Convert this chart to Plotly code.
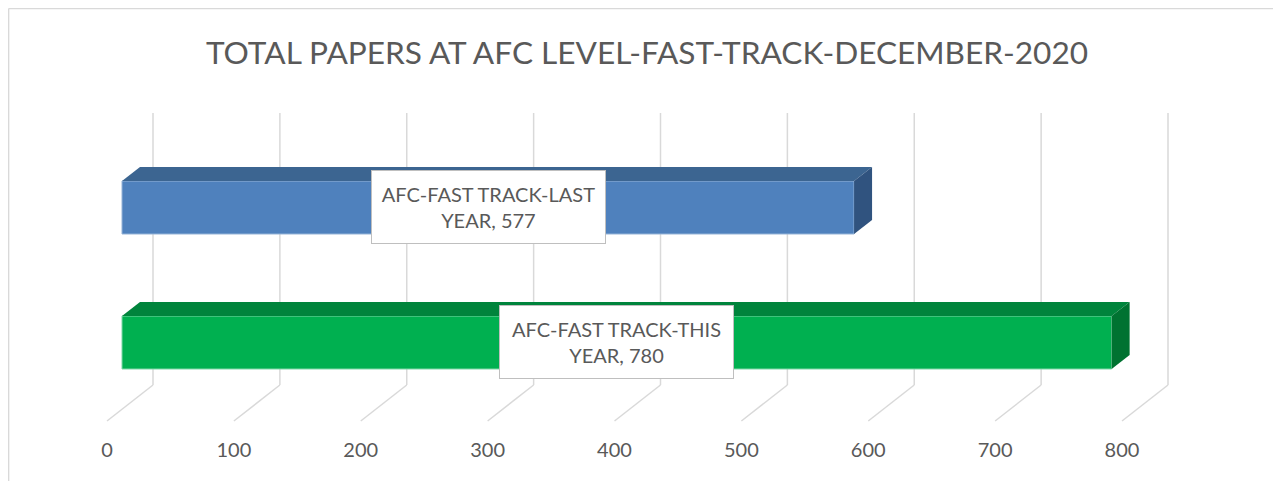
import plotly.graph_objects as go

# ---- data ----
categories = ["AFC-FAST TRACK-LAST YEAR", "AFC-FAST TRACK-THIS YEAR"]
values = [577, 780]
tick_values = [0, 100, 200, 300, 400, 500, 600, 700, 800]
title_text = "TOTAL PAPERS AT AFC LEVEL-FAST-TRACK-DECEMBER-2020"

# ---- styles ----
front_colors = ["#4F81BD", "#00B050"]
top_colors = ["#3C6591", "#00843C"]
side_colors = ["#30537F", "#007231"]
edge_colors = ["#95B3D7", "#7FD7A7"]
text_color = "#595959"
grid_color = "#D9D9D9"
FONT = "Lato"

# page body margin of the html page (8px) is compensated here
OFF = 8
W, H = 1281 - OFF, 481 - OFF

# pseudo-3D geometry (axis units: x = value units, y = category index)
PX_PER_UNIT = 1.26875
PX_PER_CAT = 135.0
X0_PX = 122.0 - OFF
Y0_PX = 207.5 - OFF
bar_w = 53 / PX_PER_CAT
bar_dx = 18 / PX_PER_UNIT
bar_dy = -14 / PX_PER_CAT
wall_dx = 31 / PX_PER_UNIT
floor_dx = -15 / PX_PER_UNIT
wall_bottom = (385 - OFF - Y0_PX) / PX_PER_CAT
floor_front = (421 - OFF - Y0_PX) / PX_PER_CAT
grid_top = (113 - OFF - Y0_PX) / PX_PER_CAT
tick_y = (452 - OFF - Y0_PX) / PX_PER_CAT

x_range = [-X0_PX / PX_PER_UNIT, (W - X0_PX) / PX_PER_UNIT]
y_range = [(H - Y0_PX) / PX_PER_CAT, -Y0_PX / PX_PER_CAT]

fig = go.Figure()

# gridlines (back wall + floor)
shapes = []
for t in tick_values:
    shapes.append(dict(type="line", xref="x", yref="y", layer="below",
                       x0=t + wall_dx, x1=t + wall_dx, y0=grid_top, y1=wall_bottom,
                       line=dict(color=grid_color, width=1.5)))
    shapes.append(dict(type="line", xref="x", yref="y", layer="below",
                       x0=t + wall_dx, x1=t + floor_dx, y0=wall_bottom, y1=floor_front,
                       line=dict(color=grid_color, width=1.5)))
# chart border (left and top visible)
shapes.append(dict(type="line", xref="paper", yref="paper",
                   x0=0.6 / W, x1=0.6 / W, y0=-0.1, y1=1 - 0.6 / H,
                   line=dict(color=grid_color, width=1.5)))
shapes.append(dict(type="line", xref="paper", yref="paper",
                   x0=0.6 / W, x1=1.1, y0=1 - 0.6 / H, y1=1 - 0.6 / H,
                   line=dict(color=grid_color, width=1.5)))

ys = list(range(len(categories)))

# front faces
for i, (c, v) in enumerate(zip(categories, values)):
    fig.add_trace(go.Bar(x=[v], y=[ys[i]], orientation="h", width=bar_w,
                         marker=dict(color=front_colors[i],
                                     line=dict(color=edge_colors[i], width=1)),
                         name=c, showlegend=False, hoverinfo="skip"))

# top and side faces
for i, v in enumerate(values):
    yt = ys[i] - bar_w / 2
    yb = ys[i] + bar_w / 2
    fig.add_trace(go.Scatter(
        x=[0, v, v + bar_dx, bar_dx, 0],
        y=[yt, yt, yt + bar_dy, yt + bar_dy, yt],
        fill="toself", fillcolor=top_colors[i], mode="lines",
        line=dict(width=0), showlegend=False, hoverinfo="skip"))
    fig.add_trace(go.Scatter(
        x=[v, v + bar_dx, v + bar_dx, v, v],
        y=[yt, yt + bar_dy, yb + bar_dy, yb, yt],
        fill="toself", fillcolor=side_colors[i], mode="lines",
        line=dict(width=0), showlegend=False, hoverinfo="skip"))

# tick labels on the front floor edge
fig.add_trace(go.Scatter(
    x=[t + floor_dx for t in tick_values], y=[tick_y] * len(tick_values),
    mode="text", text=[str(t) for t in tick_values],
    textfont=dict(family=FONT, size=20, color=text_color),
    showlegend=False, hoverinfo="skip"))

# data labels
annotations = []
for i, (c, v) in enumerate(zip(categories, values)):
    head, tail = c.rsplit(" ", 1)
    annotations.append(dict(
        x=v / 2, y=ys[i], xref="x", yref="y", yshift=1,
        text=f"{head}<br>{tail}, {v}", showarrow=False,
        font=dict(family=FONT, size=20, color=text_color),
        bgcolor="white", bordercolor="#BFBFBF", borderwidth=1,
        borderpad=4, width=225, height=64, align="center"))

fig.update_layout(
    width=W, height=H,
    margin=dict(l=0, r=0, t=0, b=0),
    paper_bgcolor="white", plot_bgcolor="white",
    title=dict(text=title_text, x=(647 - OFF) / W, xanchor="center",
               y=1 - (53 - OFF) / H, yanchor="middle",
               font=dict(family=FONT, size=31.6, color=text_color)),
    xaxis=dict(range=x_range, visible=False, fixedrange=True),
    yaxis=dict(range=y_range, visible=False, fixedrange=True),
    shapes=shapes, annotations=annotations,
    barmode="overlay",
)

fig.write_html("out.html")
